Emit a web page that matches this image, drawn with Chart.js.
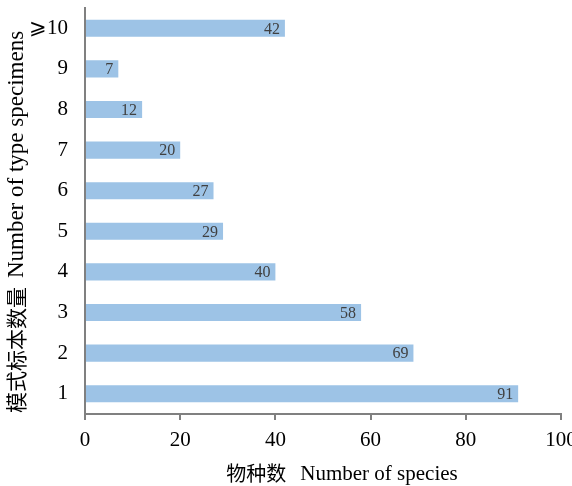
<!DOCTYPE html>
<html>
<head>
<meta charset="utf-8">
<script src="https://cdn.jsdelivr.net/npm/chart.js@4/dist/chart.umd.min.js"></script>
<style>
  html, body { margin: 0; padding: 0; background: #ffffff; }
  #wrap { width: 572px; height: 486px; position: relative; }
</style>
</head>
<body>
<div id="wrap"><canvas id="c" width="572" height="486"></canvas></div>
<script>
// Number of type specimens per species (categories top to bottom)
const categories = ['⩾10', '9', '8', '7', '6', '5', '4', '3', '2', '1'];
// Number of species in each category
const speciesCounts = [42, 7, 12, 20, 27, 29, 40, 58, 69, 91];
// Value axis ticks
const xTicks = [0, 20, 40, 60, 80, 100];
// Axis titles: Chinese part, then English part
const xTitleParts = ['物种数', 'Number of species'];
const yTitleParts = ['模式标本数量', 'Number of type specimens'];

const serif = '"Liberation Serif", "Times New Roman", "DejaVu Serif", "Noto Sans CJK SC", serif';
const cjk = '"Noto Sans CJK SC", "Liberation Serif", sans-serif';

// Writes each bar's value just inside its right end
const barValueLabels = {
  id: 'barValueLabels',
  afterDatasetsDraw(chart) {
    const ctx = chart.ctx;
    const meta = chart.getDatasetMeta(0);
    ctx.save();
    ctx.font = '16px ' + serif;
    ctx.fillStyle = '#404040';
    ctx.textAlign = 'right';
    ctx.textBaseline = 'middle';
    meta.data.forEach((bar, i) => {
      ctx.fillText(String(speciesCounts[i]), bar.x - 5, bar.y + 1);
    });
    ctx.restore();
  }
};

// Draws a two-part (Chinese + English) title centred on (cx, cy), optionally rotated
function drawTwoPartTitle(ctx, parts, cx, cy, cjkSize, latinSize, gap, angle) {
  ctx.save();
  ctx.translate(cx, cy);
  if (angle) ctx.rotate(angle);
  ctx.fillStyle = '#000000';
  ctx.textBaseline = 'middle';
  ctx.textAlign = 'left';
  ctx.font = cjkSize + 'px ' + cjk;
  const w1 = ctx.measureText(parts[0]).width;
  ctx.font = latinSize + 'px ' + serif;
  const w2 = ctx.measureText(parts[1]).width;
  let x = -(w1 + gap + w2) / 2;
  ctx.font = cjkSize + 'px ' + cjk;
  ctx.fillText(parts[0], x, 0);
  x += w1 + gap;
  ctx.font = latinSize + 'px ' + serif;
  ctx.fillText(parts[1], x, 1);
  ctx.restore();
}

// Axis titles placed relative to the plot area
const axisTitles = {
  id: 'axisTitles',
  afterDraw(chart) {
    const ctx = chart.ctx;
    const area = chart.chartArea;
    drawTwoPartTitle(ctx, xTitleParts, (area.left + area.right) / 2 + 19, chart.height - 13, 20, 21, 14, 0);
    drawTwoPartTitle(ctx, yTitleParts, 16, (area.top + area.bottom) / 2 + 11, 21, 23, 9, -Math.PI / 2);
  }
};

new Chart(document.getElementById('c'), {
  type: 'bar',
  data: {
    labels: categories,
    datasets: [{
      data: speciesCounts,
      backgroundColor: '#9dc3e6',
      borderWidth: 0,
      barPercentage: 0.84,
      categoryPercentage: 0.5
    }]
  },
  options: {
    indexAxis: 'y',
    responsive: false,
    animation: false,
    devicePixelRatio: 1,
    layout: { padding: { top: 8, right: 11, left: 0, bottom: 0 } },
    plugins: { legend: { display: false }, tooltip: { enabled: false } },
    scales: {
      x: {
        min: 0,
        max: 100,
        afterBuildTicks(scale) { scale.ticks = xTicks.map(v => ({ value: v })); },
        afterFit(scale) { scale.height = 72; scale.paddingRight = 0; scale.paddingLeft = 0; },
        border: { color: '#808080', width: 2 },
        grid: { drawOnChartArea: false, drawTicks: true, tickLength: 6, color: '#808080', lineWidth: 2 },
        ticks: { color: '#000000', font: { family: serif, size: 21 }, padding: 8, maxRotation: 0 }
      },
      y: {
        afterFit(scale) { scale.width = 85; scale.paddingTop = 0; scale.paddingBottom = 0; },
        border: { color: '#808080', width: 2 },
        grid: { display: true, drawOnChartArea: false, drawTicks: false },
        ticks: { color: '#000000', font: { family: serif, size: 21 }, padding: 17 }
      }
    }
  },
  plugins: [barValueLabels, axisTitles]
});
</script>
</body>
</html>
